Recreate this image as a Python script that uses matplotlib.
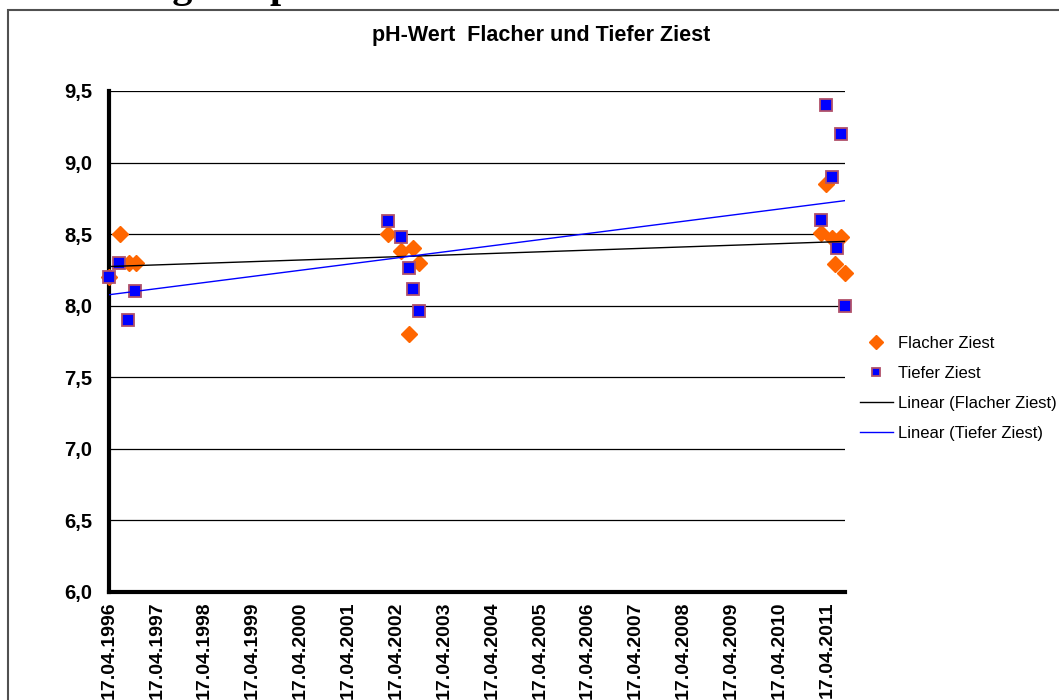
import matplotlib
matplotlib.use("Agg")
import matplotlib.pyplot as plt
import matplotlib.dates as mdates
from matplotlib.patches import Rectangle
import numpy as np
import datetime as dt

# pH values
flach_dates = ["1996-04-17", "1996-07-10", "1996-09-16", "1996-11-07",
               "2002-02-14", "2002-05-22", "2002-07-23", "2002-08-22", "2002-10-10",
               "2011-02-28", "2011-04-10", "2011-05-25", "2011-06-19", "2011-08-02", "2011-09-01"]
flach_ph = [8.2, 8.5, 8.3, 8.3,
            8.5, 8.38, 7.8, 8.4, 8.3,
            8.51, 8.85, 8.47, 8.29, 8.48, 8.23]

tief_dates = ["1996-04-17", "1996-07-05", "1996-09-10", "1996-11-01",
              "2002-02-14", "2002-05-22", "2002-07-23", "2002-08-22", "2002-10-07",
              "2011-02-28", "2011-04-10", "2011-05-25", "2011-07-04", "2011-08-02", "2011-09-01"]
tief_ph = [8.2, 8.3, 7.9, 8.1,
           8.59, 8.48, 8.26, 8.12, 7.96,
           8.6, 9.4, 8.9, 8.4, 9.2, 8.0]

tick_years = list(range(1996, 2012))
y_ticks = [6.0, 6.5, 7.0, 7.5, 8.0, 8.5, 9.0, 9.5]

font = "Liberation Sans"

def to_num(dates):
    return mdates.date2num([dt.datetime.strptime(d, "%Y-%m-%d") for d in dates])

fx = to_num(flach_dates)
tx = to_num(tief_dates)

fig = plt.figure(figsize=(10.59, 7.0), dpi=100)

# outer chart frame (cut off on right/bottom like the screenshot)
fig.patches.append(Rectangle((8 / 1059, -0.05), 1.2, 1 - 10 / 700 + 0.05, transform=fig.transFigure,
                             fill=False, edgecolor="#505050", linewidth=1.5))

# heading above the chart, mostly cut off at the top of the screenshot
fig.text(18 / 1059, 1 + 3 / 700, "Änderung der pH-Werte", family="Liberation Serif",
         fontweight="bold", fontsize=29, va="baseline", ha="left")

ax = fig.add_axes([109 / 1059, 1 - 592 / 700, (845 - 109) / 1059, (592 - 91) / 700])

# grid
for v in y_ticks[1:]:
    ax.axhline(v, color="black", linewidth=0.9, zorder=1)

ax.plot(fx, flach_ph, linestyle="none", marker="D", markersize=8.5, color="#FF6600",
        markeredgecolor="#FF6600", zorder=3, clip_on=False, label="Flacher Ziest")
ax.plot(tx, tief_ph, linestyle="none", marker="s", markersize=8, color="#0000FF",
        markeredgecolor="#B0506A", markeredgewidth=1.3, zorder=4, clip_on=False,
        label="Tiefer Ziest")

# linear trend lines
xmin = min(fx.min(), tx.min())
xmax = max(fx.max(), tx.max())
xs = np.array([xmin, xmax])
kf = np.polyfit(fx, flach_ph, 1)
kt = np.polyfit(tx, tief_ph, 1)
ax.plot(xs, np.polyval(kf, xs), color="black", linewidth=1, zorder=5, label="Linear (Flacher Ziest)")
ax.plot(xs, np.polyval(kt, xs), color="#0000FF", linewidth=1, zorder=5, label="Linear (Tiefer Ziest)")

ax.set_xlim(xmin, xmax)
ax.set_ylim(6.0, 9.5)
ax.set_yticks(y_ticks)
ax.set_yticklabels([f"{v:.1f}".replace(".", ",") for v in y_ticks], fontweight="bold",
                   fontsize=14.5, family=font)
ax.set_xticks(mdates.date2num([dt.datetime(y, 4, 17) for y in tick_years]))
ax.set_xticklabels([f"17.04.{y}" for y in tick_years], rotation=90, fontweight="bold",
                   fontsize=14, family=font)
ax.tick_params(axis="y", length=0, pad=12)
ax.tick_params(axis="x", length=0, pad=7)

for s in ["top", "right"]:
    ax.spines[s].set_visible(False)
for s in ["left", "bottom"]:
    ax.spines[s].set_linewidth(3)
    ax.spines[s].set_zorder(2)

fig.text(541 / 1059, 1 - 35 / 700, "pH-Wert  Flacher und Tiefer Ziest", ha="center", va="center",
         fontweight="bold", fontsize=15.5, family=font)

fig.legend(loc="upper left", bbox_to_anchor=(853 / 1059, 1 - 329 / 700), frameon=False,
           prop={"family": font, "size": 12}, handlelength=2.0, handletextpad=0.3,
           labelspacing=0.9, borderaxespad=0, markerscale=0.8)

fig.savefig("out.png", dpi=100)
